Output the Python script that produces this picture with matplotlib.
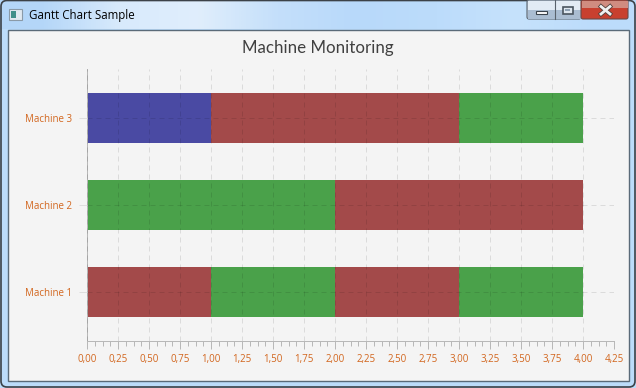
import matplotlib
matplotlib.use("Agg")
import matplotlib.pyplot as plt
from matplotlib.colors import LinearSegmentedColormap
from matplotlib.patches import Rectangle, FancyBboxPatch
from matplotlib.ticker import MultipleLocator, FixedLocator, FuncFormatter

# data
machines = ["Machine 1", "Machine 2", "Machine 3"]
m1_starts = [0, 1, 2, 3]
m1_lengths = [1, 1, 1, 1]
m1_status = ["red", "green", "red", "green"]
m2_starts = [0, 2]
m2_lengths = [2, 2]
m2_status = ["green", "red"]
m3_starts = [0, 1, 3]
m3_lengths = [1, 2, 1]
m3_status = ["blue", "red", "green"]
x_ticks = [0, 0.25, 0.5, 0.75, 1, 1.25, 1.5, 1.75, 2, 2.25, 2.5, 2.75, 3, 3.25, 3.5, 3.75, 4, 4.25]

W, H = 636, 388
BG = "#f4f4f4"
ORANGE = "#d2661e"
GRID = "#dedede"
AXIS = "#b8b8b8"
status_colors = {"red": "#8f2020", "green": "#1f8c1f", "blue": "#20208f"}

plt.rcParams["font.family"] = ["Open Sans", "DejaVu Sans"]

fig = plt.figure(figsize=(W / 100, H / 100), dpi=100)

# window frame, drawn in pixel coords
bg = fig.add_axes([0, 0, 1, 1])
bg.set_xlim(0, W)
bg.set_ylim(H, 0)
bg.axis("off")
bg.add_patch(Rectangle((0, 0), W, H, color="#bcdcfa"))
bar_cmap = LinearSegmentedColormap.from_list(
    "titlebar", ["#b4d6f8", "#d8eafc", "#e0eefc", "#c4dffa", "#b8d9fa", "#bcdcfb", "#c6e2fc", "#bcdcfb"])
bg.imshow([[0, 1, 2, 3, 4, 5, 6, 7]], extent=(0, W, 29, 0), aspect="auto", cmap=bar_cmap,
          interpolation="bilinear", zorder=1)
bg.set_xlim(0, W)
bg.set_ylim(H, 0)
bg.add_patch(FancyBboxPatch((1, 0.5), W - 2, H - 1.5, boxstyle="round,pad=0,rounding_size=6",
                            fc="none", ec="#3c4248", lw=1.2, zorder=2))
bg.add_patch(Rectangle((7.5, 29.5), 621, 351, fc=BG, ec="#5a6a78", lw=1, zorder=2))

# title bar icon and text
bg.add_patch(Rectangle((9, 9), 13, 11, fc="#dfe8f0", ec="#8a9aa8", lw=0.8, zorder=3))
bg.add_patch(Rectangle((10.5, 11), 5, 7, fc="#3f8f8a", zorder=4))
bg.text(29, 15.5, "Gantt Chart Sample", fontsize=8.3, va="center", ha="left", color="black", zorder=4)

# min / max / close buttons
bg.add_patch(FancyBboxPatch((527, 0), 54, 19, boxstyle="round,pad=0,rounding_size=2",
                            fc="#c3d3e4", ec="#59626c", lw=0.8, zorder=3))
bg.add_patch(Rectangle((527.5, 0.5), 53, 9, fc="#e2ebf4", zorder=3))
bg.add_patch(Rectangle((528, 10), 53, 8.5, fc="#aabdd2", zorder=3))
bg.plot([554.5, 554.5], [0, 19], color="#59626c", lw=0.8, zorder=4)
bg.add_patch(FancyBboxPatch((581, 0), 47, 19, boxstyle="round,pad=0,rounding_size=2",
                            fc="#c8402f", ec="#6a4a48", lw=0.8, zorder=3))
bg.add_patch(Rectangle((581.5, 0.5), 46, 7, fc="#d08c80", zorder=3))
bg.add_patch(Rectangle((535.5, 10.5), 11, 3.5, fc="white", ec="#39424c", lw=0.8, zorder=5))
bg.add_patch(Rectangle((562.5, 6.5), 10, 7, fc="#dde6ef", ec="#4a5560", lw=1.2, zorder=5))
bg.add_patch(Rectangle((565, 9), 5, 2, fc="#8fa2b5", zorder=6))
for xs in ([601, 610], [610, 601]):
    bg.plot(xs, [6.5, 14], color="#50403c", lw=3.2, zorder=5)
    bg.plot(xs, [6.5, 14], color="#f0f0f0", lw=2.0, zorder=6)

# chart
left, right, top, bottom = 87, 614, 69, 341
ax = fig.add_axes([left / W, 1 - bottom / H, (right - left) / W, (bottom - top) / H])
ax.patch.set_alpha(0)
ax.set_xlim(0, 4.25)
ax.set_ylim(0.437, 3.563)

rows = [(1, m1_starts, m1_lengths, m1_status),
        (2, m2_starts, m2_lengths, m2_status),
        (3, m3_starts, m3_lengths, m3_status)]
for y, starts, lengths, status in rows:
    for s, l, st in zip(starts, lengths, status):
        ax.barh(y, l, left=s, height=0.57, color=status_colors[st], alpha=0.8, linewidth=0, zorder=1)

# grid sits over the bars and shows through them as darker dashes
ax.set_axisbelow(False)
ax.grid(True, color="black", alpha=0.1, linestyle=(0, (5, 4)), linewidth=0.72)

ax.xaxis.set_major_locator(FixedLocator(x_ticks))
ax.xaxis.set_minor_locator(MultipleLocator(0.0625))
ax.xaxis.set_major_formatter(FuncFormatter(lambda v, p: f"{v:.2f}".replace(".", ",")))
ax.set_yticks([1, 2, 3])
ax.set_yticklabels(machines)
ax.tick_params(axis="x", which="major", length=6, width=0.72, color=AXIS, labelcolor=ORANGE, labelsize=7, pad=3.5)
ax.tick_params(axis="x", which="minor", length=3.5, width=0.72, color=AXIS)
ax.tick_params(axis="y", which="major", length=6, width=0.72, color=GRID, labelcolor=ORANGE, labelsize=7, pad=5)

for side in ["top", "right"]:
    ax.spines[side].set_visible(False)
for side in ["left", "bottom"]:
    ax.spines[side].set_color(AXIS)
    ax.spines[side].set_linewidth(0.72)

bg.text(318, 47.5, "Machine Monitoring", fontsize=12.2, family=["Lato", "DejaVu Sans"],
        ha="center", va="center", color="#404040", zorder=5)

fig.savefig("out.png", dpi=100)
plt.close()
